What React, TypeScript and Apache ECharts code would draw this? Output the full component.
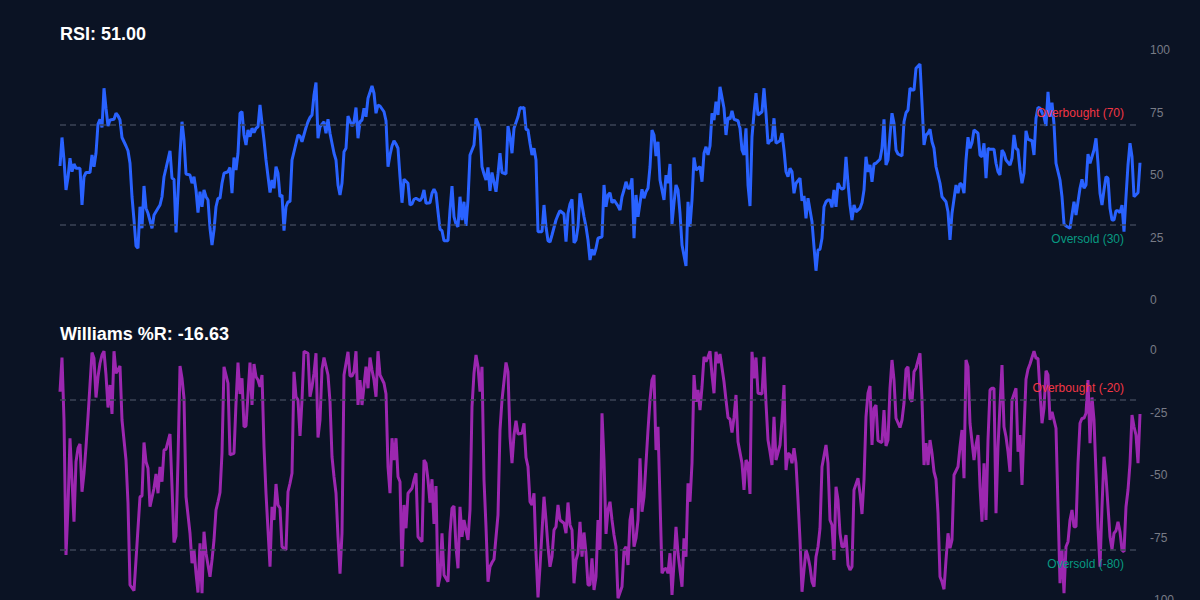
import * as echarts from 'echarts';
import { useEffect, useRef } from 'react';

// [bar index, value] pairs
const rsiData: [number, number][] = [
  [0,53.6],[1,65],[2,56],[3,44],[4,49],[5,56.7],[6,51.3],[7,54.4],[8,52.7],[10,52.7],[11,38],[12,49.3],[13,51],[15,51],[16,58],[17,53.3],[18,58.7],[19,70.4],[20,72.3],[21,69],[22,84.7],[23,76.7],[24,69.6],[25,72],[27,72.3],[28,74.7],[29,73.7],[30,72],[31,65],[33,61.6],[34,59.7],[35,54.7],[36,41.3],[37,32],[38,21.6],[39,20.7],[40,37.3],[41,28.7],[42,45.6],[43,36.7],[44,34.7],[46,28.7],[47,34],[49,36.7],[50,38],[51,41.3],[52,49.3],[53,52.7],[55,59.7],[56,48.7],[57,48.3],[58,27],[59,42.7],[60,58.7],[61,71.3],[62,64],[63,50.4],[65,50],[66,46.7],[67,49.3],[68,44],[69,35],[70,43.3],[71,37.3],[72,44],[73,41.3],[74,40],[75,28.7],[76,22],[77,28],[78,37.3],[79,40.7],[80,40.7],[81,46.7],[82,50.7],[84,51.3],[85,53],[86,42.7],[87,57],[88,52],[89,58.7],[90,74.7],[91,75.3],[92,66],[93,62],[94,68],[95,65.3],[96,68.7],[97,67],[98,68.7],[99,69.3],[100,78],[101,70.7],[102,64],[103,56],[105,43],[106,48],[107,44.7],[108,53.3],[109,50.7],[110,41.3],[111,42],[112,27.7],[113,37.3],[114,39.3],[115,39.3],[116,56],[117,59.3],[119,66],[120,65.6],[121,63.3],[123,69],[124,71.3],[125,73],[126,74],[127,82],[128,87],[129,64.7],[130,69.3],[132,71.3],[133,66.7],[134,72.3],[135,66.7],[136,62.7],[137,58.7],[138,56],[139,46],[140,42],
  [141,46.7],[142,59.3],[143,60.7],[144,73.6],[146,69.6],[147,71.3],[148,77],[149,64.7],[150,71.3],[151,72],[152,76.7],[153,73.3],[154,80.7],[156,85.6],[157,82.7],[158,74.7],[159,78],[160,77.6],[162,75.3],[163,71.7],[164,53.3],[165,58],[166,61.6],[167,63.7],[168,62.4],[169,60.7],[170,49.3],[171,38.9],[172,48.3],[174,46.7],[175,38],[176,38.4],[177,40.3],[178,40.7],[180,39.7],[181,41],[182,44],[183,38.7],[185,38.9],[186,42.7],[187,44.3],[188,42.7],[189,35.3],[190,28.3],[191,27.7],[192,23.7],[194,23.7],[195,36],[196,45.6],[197,33.3],[198,30.4],[199,29.3],[200,41.3],[201,32],[202,39.3],[203,29.6],[204,40],[205,58],[207,62],[208,72.7],[209,70.7],[210,68],[211,53.3],[212,50.4],[213,48],[214,53],[215,43.7],[216,51],[218,43.3],[219,50.4],[220,58.7],[221,51],[223,50.4],[224,69.6],[225,65.3],[226,58.7],[227,68.7],[229,73.3],[230,77],[231,76.7],[232,77],[233,68.3],[234,68],[235,62.7],[236,58],[237,60.7],[238,56],[239,27.3],[241,27.3],[242,38],[243,29.3],[244,23.7],[245,23.2],[246,26],[248,32],[249,34],[250,35.7],[252,34.4],[253,23.3],[254,34.7],[255,38.4],[256,40.3],[257,22.9],[258,24],[259,29.3],[260,42.7],[262,33.3],[263,29.3],[264,24],[265,16],[266,20.3],[267,18],[268,20.7],[269,24.7],[271,25.3],[272,46],[273,37.3],[274,42],[275,42.9],[276,38.9],[277,40],[279,37.6],[280,36],
  [281,41.3],[282,44],[283,47.3],[284,44.7],[285,44.7],[286,48.7],[287,24.7],[288,42],[289,33.3],[291,44.3],[292,40.7],[293,43.3],[294,44.7],[295,53.3],[296,68],[297,66],[298,57.6],[299,63.3],[300,48],[302,40],[303,50],[304,46.7],[305,54.4],[306,30.4],[307,38.9],[308,46],[309,44],[310,34.7],[311,22],[313,13.6],[314,39.3],[315,29.3],[316,40],[317,57],[318,52],[320,53.3],[321,47.3],[322,58.7],[323,61.3],[324,58],[325,61.6],[326,74.7],[327,72],[328,79.3],[329,74],[330,85.3],[332,76.7],[333,66],[334,73],[335,72.3],[336,75.7],[337,72.3],[339,71.7],[340,68.7],[341,60],[342,58],[343,68.7],[344,46],[345,37.6],[346,65.3],[347,74.7],[348,82.7],[349,74],[351,75.3],[352,84.7],[353,74.7],[354,62.4],[355,63.7],[356,64],[357,72.7],[358,62.7],[360,63.7],[361,66.7],[362,60],[363,51.3],[364,49.3],[365,52.7],[366,51.3],[367,42.7],[368,46.7],[370,48.7],[371,39.7],[372,41.6],[373,32.7],[374,40.7],[375,36],[376,31.3],[377,21.3],[378,11.7],[379,20],[380,20.3],[381,24.7],[382,37.3],[383,39.3],[384,40],[385,40],[386,37.1],[387,44],[388,37.3],[389,46.7],[390,45.1],[391,44.3],[392,44.7],[393,57.3],[394,46.7],[395,38],[396,32],[397,38],[398,35.3],[400,36.7],[401,38.9],[402,44],[403,57.3],[404,51.3],[405,54],[406,47.3],[407,54.4],[408,54.7],[410,56.3],[411,60.7],[412,72.3],[413,54],[414,56],[415,66],[416,74.7],[417,70.7],[418,60],[419,58.4],[420,58],
  [421,57.6],[422,71.3],[423,74.9],[424,76],[425,84.7],[426,84],[427,84],[428,92.7],[430,94.4],[431,78.7],[432,62],[433,66],[434,66.7],[435,68.3],[436,63.3],[437,60.7],[438,53.3],[440,46.7],[441,41.3],[443,39.3],[444,35.3],[445,24],[446,34.7],[448,46],[449,42.7],[450,46.7],[451,46],[452,42.7],[453,56],[454,65.1],[455,60.7],[456,62.9],[457,68],[459,66.7],[460,58],[461,57.3],[462,62.7],[463,48.7],[464,60.7],[465,60.3],[467,60.3],[468,54.7],[469,51.3],[470,50],[471,60],[472,58.7],[473,56],[475,54],[476,56.7],[477,66],[478,60.7],[479,60],[480,52],[481,46.7],[482,50.7],[483,67.7],[484,64.3],[486,63.7],[487,58],[488,72.7],[489,77],[490,76.7],[492,73.3],[493,69.6],[494,83.3],[495,73.3],[496,78.9],[497,70.4],[498,54.7],[500,48],[501,41.3],[502,30.4],[503,29.6],[505,28.7],[506,34],[507,39.3],[508,34],[509,39.3],[510,44.7],[511,48.3],[512,44.7],[513,46],[514,58.4],[515,54.7],[517,60],[518,64.7],[519,54.7],[520,42.7],[521,38],[522,44],[523,49.3],[524,48.7],[525,36.7],[526,32],[527,32],[528,35.7],[529,35.7],[530,34.9],[531,38],[532,27.3],[533,41.3],[534,54],[535,62.7],[536,57.3],[537,41.3],[539,42.9],[540,54.9],
];

const williamsData: [number, number][] = [
  [0,-16.7],[1,-3],[2,-28],[3,-82],[4,-62.7],[5,-35.3],[7,-68.7],[8,-44.7],[9,-39.3],[10,-37.6],[11,-56.7],[12,-49.3],[13,-38.7],[14,-26.7],[16,-1],[17,-3.3],[18,-19],[19,-10.7],[20,-5.3],[21,-2],[22,-0.5],[23,-10],[24,-23],[25,-14],[26,-25.6],[27,-0.5],[28,-9.3],[29,-8],[30,-6.4],[31,-28],[33,-44],[34,-61.3],[35,-94],[37,-96.3],[38,-84],[40,-58.7],[41,-58.4],[42,-37],[43,-44.7],[44,-47.3],[45,-62.7],[47,-55.3],[48,-49.6],[49,-57.3],[50,-46.7],[51,-52.7],[52,-40],[53,-39.7],[55,-33.6],[56,-54.7],[57,-77],[58,-74.4],[59,-44],[60,-6.4],[61,-11.3],[62,-19.3],[63,-58.7],[65,-73.3],[66,-85.3],[67,-80],[68,-89.3],[69,-97],[70,-77.3],[71,-97.3],[72,-72.7],[73,-81.3],[75,-90.7],[76,-84],[77,-76],[78,-64],[79,-60.7],[80,-57],[81,-41.3],[82,-6.7],[84,-13.3],[85,-42],[86,-41.6],[87,-41.3],[88,-21.3],[89,-5],[90,-17.6],[91,-11.3],[92,-30.7],[93,-30.4],[95,-5],[96,-22],[97,-5.6],[98,-10.7],[99,-12],[100,-14.7],[101,-10],[102,-38.7],[103,-57.3],[105,-86.7],[106,-62.7],[107,-68],[108,-53.6],[109,-62],[110,-63.3],[111,-78.7],[113,-80],[114,-56.7],[115,-53.3],[116,-49.3],[117,-8.7],[118,-18.7],[119,-20],[120,-34.4],[121,-20],[122,-0.5],[124,-1.3],[125,-18.7],[126,-14.7],[127,-9.3],[128,-1.3],[129,-35],[130,-28],[131,-7.7],[132,-3],[134,-10],[135,-20.7],[136,-42.7],[137,-50.7],[138,-57.3],[139,-74.7],[140,-89.5],
  [141,-73.3],[142,-10],[144,-0.7],[145,-10.4],[146,-10.4],[147,-8.7],[148,-0.5],[149,-22],[150,-12],[151,-22],[153,-6.7],[154,-15.3],[155,-3],[156,-8],[157,-12],[158,-18.7],[159,-0.5],[160,-10],[162,-13.3],[163,-17.6],[164,-46.7],[165,-57.3],[166,-35.3],[167,-44],[168,-35.3],[169,-50.7],[170,-52.7],[171,-86.7],[172,-62],[173,-71.3],[174,-57.3],[176,-55.3],[177,-52],[178,-49.3],[179,-74.7],[181,-76.7],[182,-44],[183,-45.3],[184,-52],[185,-61],[186,-51.7],[187,-69.6],[188,-54.4],[189,-94.7],[190,-90.7],[191,-73.3],[192,-90],[194,-92.7],[195,-73.3],[196,-63.3],[197,-62.4],[198,-78.7],[199,-87.3],[200,-62.7],[201,-74.7],[202,-68],[204,-76],[205,-64],[206,-22.7],[207,-9.3],[208,-2],[209,-6.7],[210,-16.7],[211,-6.7],[212,-52],[213,-70.7],[214,-92.7],[215,-86.7],[216,-85],[217,-83.7],[219,-66],[220,-32],[221,-20],[223,-5],[224,-8.7],[225,-34.7],[226,-45.3],[227,-34],[228,-28.3],[229,-33.6],[231,-33.3],[232,-29.3],[233,-43],[234,-46.7],[235,-60.7],[236,-62],[237,-57.3],[238,-81.3],[239,-99],[240,-86.7],[242,-58.7],[243,-68],[244,-78.7],[245,-86.7],[246,-82.7],[247,-72],[248,-70.7],[249,-62],[250,-68],[252,-69.3],[253,-73.3],[254,-61],[255,-70],[256,-72],[257,-93.3],[258,-84],[259,-81.3],[260,-68.7],[261,-82.7],[262,-73],[263,-81.3],[264,-94],[265,-94],[266,-83.3],[267,-96],[268,-90.7],[269,-68],[270,-80],[271,-25.3],[272,-44],[273,-73.6],[274,-64],[275,-60.7],[276,-68],[277,-74],[278,-78.7],[279,-99.3],
  [281,-94.7],[282,-80],[283,-78.7],[284,-86],[285,-68],[286,-63.3],[287,-78.7],[288,-75.3],[289,-68],[290,-43.3],[291,-64.7],[292,-58.7],[293,-45.3],[294,-32],[295,-20],[296,-12],[297,-10],[298,-40],[299,-30.7],[300,-60],[301,-89.3],[302,-87.7],[303,-87.3],[304,-89.3],[305,-81.3],[306,-98],[307,-85.3],[308,-70.7],[309,-81.3],[311,-94.7],[312,-75.3],[313,-82.7],[314,-53.3],[315,-60.7],[316,-45.3],[317,-10],[318,-20.7],[319,-16],[320,-24],[321,-14.7],[322,-2.7],[323,-4.7],[324,-2.7],[325,-0.5],[326,-10],[327,-17.3],[328,-0.7],[329,-5.3],[330,-1.6],[332,-12.7],[333,-20],[334,-27],[335,-27.7],[336,-33],[337,-27],[338,-18],[339,-36.7],[341,-45.3],[342,-56],[343,-44],[344,-45.6],[345,-57.6],[346,-0.7],[347,-11.3],[348,-3],[349,-17.3],[351,-17.6],[352,-2.7],[353,-21.3],[354,-36],[355,-40.7],[356,-46],[357,-26.7],[358,-44],[360,-38],[361,-28],[362,-14],[363,-48],[364,-41.3],[365,-42],[366,-45.3],[367,-39.3],[368,-45.3],[369,-60],[370,-76],[371,-96.7],[372,-88],[373,-80],[374,-82.7],[375,-86.7],[376,-92.7],[377,-94.7],[378,-82.7],[379,-78.7],[380,-71.3],[381,-46.7],[383,-38],[384,-45.3],[385,-68],[386,-70],[387,-84],[388,-54.7],[389,-60],[390,-73.3],[391,-78.7],[392,-78.7],[393,-74],[394,-86],[395,-88],[396,-86.7],[397,-56],[399,-51.3],[400,-57.3],[401,-65.6],[402,-52],[403,-26.7],[404,-17.3],[405,-14.4],[406,-38],[407,-23.3],[408,-22],[409,-36.3],[410,-36.7],[411,-37],[412,-24],[413,-38.4],[414,-36],[415,-15.3],[416,-4],[417,-12],[418,-27.3],[420,-31],
  [421,-28],[422,-21.3],[423,-7.7],[424,-6.7],[425,-19.3],[426,-20.7],[427,-8.7],[428,-7.3],[430,-1.3],[431,-20],[432,-46],[433,-37.3],[434,-46],[435,-36],[436,-41.3],[437,-48.7],[438,-51.7],[439,-65.3],[440,-90.7],[441,-92.7],[442,-95.7],[443,-84],[444,-73.3],[445,-79.3],[446,-76],[447,-50],[449,-46.7],[450,-38.7],[451,-32],[452,-51.3],[453,-4],[454,-6.7],[455,-29.3],[457,-44],[458,-38],[459,-34],[460,-54.7],[461,-68.7],[462,-45.3],[463,-68],[464,-36],[465,-16],[466,-15.3],[467,-15.3],[468,-65.3],[469,-38.7],[470,-22],[471,-6],[472,-30.7],[473,-34.7],[474,-40.7],[475,-48.7],[476,-20],[478,-15.3],[479,-40.7],[480,-34],[481,-54],[482,-32],[483,-11.7],[484,-7.7],[485,-5.6],[486,-3],[487,-0.5],[488,-3.3],[489,-3.3],[490,-16.7],[491,-29.3],[492,-23.3],[493,-8.3],[494,-10],[495,-28],[496,-24.7],[498,-31.3],[499,-62.7],[500,-93.3],[501,-80],[502,-97.3],[503,-78.7],[504,-76.7],[505,-68],[506,-64],[507,-70.7],[508,-70.7],[509,-45.3],[510,-29.3],[511,-27.3],[512,-27.3],[513,-25.3],[514,-12],[515,-37.3],[516,-19],[517,-28],[518,-49.3],[519,-71.3],[520,-86.7],[521,-62.7],[522,-42.7],[523,-50.7],[524,-62.7],[525,-74.7],[526,-79.7],[527,-73.3],[528,-72.3],[529,-68.7],[530,-72.7],[531,-80],[532,-80.7],[533,-62.7],[534,-56],[535,-45.3],[536,-26],[537,-30.7],[538,-34],[539,-45.3],[540,-25.6],
];

const lastBar = 540;
const rsiTitle = 'RSI: 51.00';
const williamsTitle = 'Williams %R: -16.63';
const rsiLevels = { overbought: 70, oversold: 30 };
const williamsLevels = { overbought: -20, oversold: -80 };

const BG = '#0b1324';
const RED = '#f23645';
const TEAL = '#089981';
const FONT = '"Liberation Sans", Arial, Helvetica, sans-serif';

function levelLines(ob: number, os: number) {
  return {
    symbol: 'none',
    silent: true,
    lineStyle: { type: [6, 4], color: '#3c4456', width: 1.5 },
    data: [
      {
        yAxis: ob,
        label: {
          formatter: `Overbought (${ob})`,
          position: 'insideEndTop',
          color: RED,
          fontSize: 12,
          distance: [16, 6],
        },
      },
      {
        yAxis: os,
        label: {
          formatter: `Oversold (${os})`,
          position: 'insideEndBottom',
          color: TEAL,
          fontSize: 12,
          distance: [16, 8],
        },
      },
    ],
  };
}

export default function App() {
  const chartRef = useRef<HTMLDivElement>(null);

  useEffect(() => {
    if (!chartRef.current) return;
    document.body.style.margin = '0';
    const chart = echarts.init(chartRef.current, undefined, { renderer: 'svg' });

    const yAxisBase = {
      type: 'value' as const,
      position: 'right' as const,
      interval: 25,
      axisLine: { show: false },
      axisTick: { show: false },
      splitLine: { show: false },
      axisLabel: { color: '#787b86', fontSize: 12, margin: 10 },
    };
    const titleStyle = { color: '#ffffff', fontSize: 18, fontWeight: 'bold' as const, fontFamily: FONT };

    chart.setOption({
      animation: false,
      backgroundColor: BG,
      textStyle: { fontFamily: FONT },
      title: [
        { text: rsiTitle, left: 60, top: 25, padding: 0, textStyle: titleStyle },
        { text: williamsTitle, left: 60, top: 325, padding: 0, textStyle: titleStyle },
      ],
      grid: [
        { left: 60, right: 60, top: 50, bottom: 300, outerBoundsMode: 'none' },
        { left: 60, right: 60, top: 350, bottom: 0, outerBoundsMode: 'none' },
      ],
      xAxis: [
        { type: 'value', gridIndex: 0, min: 0, max: lastBar, show: false },
        { type: 'value', gridIndex: 1, min: 0, max: lastBar, show: false },
      ],
      yAxis: [
        { ...yAxisBase, gridIndex: 0, min: 0, max: 100 },
        { ...yAxisBase, gridIndex: 1, min: -100, max: 0 },
      ],
      series: [
        {
          name: 'RSI',
          type: 'line',
          xAxisIndex: 0,
          yAxisIndex: 0,
          data: rsiData,
          showSymbol: false,
          lineStyle: { color: '#2962ff', width: 3 },
          markLine: levelLines(rsiLevels.overbought, rsiLevels.oversold),
        },
        {
          name: 'Williams %R',
          type: 'line',
          xAxisIndex: 1,
          yAxisIndex: 1,
          data: williamsData,
          showSymbol: false,
          lineStyle: { color: '#9c27b0', width: 3 },
          markLine: levelLines(williamsLevels.overbought, williamsLevels.oversold),
        },
      ],
    });

    return () => {
      chart.dispose();
    };
  }, []);

  return <div ref={chartRef} style={{ width: '1200px', height: '600px' }} />;
}
